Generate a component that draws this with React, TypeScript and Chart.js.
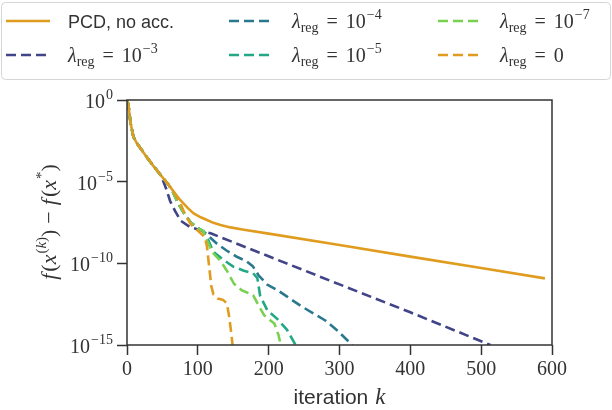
import React, { useEffect, useRef } from "react";
import { Chart, registerables } from "chart.js";

Chart.register(...registerables);

const SERIF = '"Liberation Serif", "DejaVu Serif", serif';
const SANS = '"Liberation Sans", "DejaVu Sans", sans-serif';

// ---- data (exponents of 10 for f(x^(k)) - f(x*)) ----
const pcdIter = [0, 2, 5, 9, 14, 19, 28, 38, 48, 58, 66, 75, 85, 94, 104, 113, 122, 132, 146, 165, 200, 300, 400, 500, 590];
const pcdExp = [0, -0.3, -1.4, -2.25, -2.65, -2.96, -3.5, -4.08, -4.62, -5.15, -5.62, -6.12, -6.58, -6.94, -7.18, -7.35, -7.52, -7.65, -7.8, -7.94, -8.18, -8.88, -9.59, -10.29, -10.92];

const reg3Iter = [0, 2, 5, 9, 14, 19, 28, 38, 48, 55, 61, 68, 76, 89, 104, 118, 200, 300, 400, 513];
const reg3Exp = [0, -0.3, -1.4, -2.25, -2.65, -2.96, -3.5, -4.08, -4.62, -5.4, -6.2, -6.8, -7.4, -7.78, -7.98, -8.16, -9.57, -11.29, -13.0, -15.0];

const reg4Iter = [0, 2, 5, 9, 14, 19, 28, 38, 48, 58, 64, 72, 80, 90, 100, 108, 117, 127, 140, 155, 168, 178, 186, 198, 212, 226, 245, 263, 280, 296, 318];
const reg4Exp = [0, -0.3, -1.4, -2.25, -2.65, -2.96, -3.5, -4.08, -4.62, -5.15, -5.55, -6.3, -6.9, -7.5, -7.85, -8.05, -8.4, -8.8, -9.2, -9.6, -9.85, -10.2, -10.75, -11.3, -11.63, -12.04, -12.6, -13.06, -13.5, -14.08, -15.0];

const reg5Iter = [0, 2, 5, 9, 14, 19, 28, 38, 48, 58, 64, 72, 80, 90, 100, 108, 115, 122, 135, 150, 165, 178, 184, 188, 198, 212, 226, 238];
const reg5Exp = [0, -0.3, -1.4, -2.25, -2.65, -2.96, -3.5, -4.08, -4.62, -5.15, -5.55, -6.3, -6.9, -7.5, -7.85, -8.05, -8.6, -9.3, -9.75, -10.2, -10.45, -10.6, -10.9, -12.0, -12.86, -13.4, -14.08, -15.0];

const reg7Iter = [0, 2, 5, 9, 14, 19, 28, 38, 48, 58, 64, 72, 80, 90, 100, 108, 113, 120, 132, 141, 151, 162, 178, 186, 194, 208, 214, 217];
const reg7Exp = [0, -0.3, -1.4, -2.25, -2.65, -2.96, -3.5, -4.08, -4.62, -5.15, -5.55, -6.3, -6.9, -7.5, -7.85, -8.05, -8.6, -9.3, -9.85, -10.45, -11.25, -11.65, -11.95, -12.6, -13.2, -13.68, -14.4, -15.0];

const reg0Iter = [0, 2, 5, 9, 14, 19, 28, 38, 48, 58, 66, 75, 82, 90, 99, 110, 113, 116, 119, 122, 128, 136, 141, 144, 147, 149];
const reg0Exp = [0, -0.3, -1.4, -2.25, -2.65, -2.96, -3.5, -4.08, -4.62, -5.15, -5.62, -6.3, -7.0, -7.6, -7.96, -8.4, -9.0, -10.2, -11.4, -11.9, -12.15, -12.25, -12.45, -13.2, -14.2, -15.0];

const seriesLabels = ["PCD, no acc.", "λreg = 10^-3", "λreg = 10^-4", "λreg = 10^-5", "λreg = 10^-7", "λreg = 0"];
const lambdaExps: (string | null)[] = ["", "−3", "−4", "−5", "−7", null];
const seriesColors = ["#e09c1f", "#414487", "#2a788e", "#22a884", "#7ad151", "#e09c1f"];
const seriesDashed = [false, true, true, true, true, true];

const xTicks = [0, 100, 200, 300, 400, 500, 600];
const yTickExps = [0, -5, -10, -15];

type Seg = { t: string; f: string; dy?: number; dx?: number };

function segWidth(ctx: CanvasRenderingContext2D, segs: Seg[]) {
  let w = 0;
  for (const s of segs) {
    ctx.font = s.f;
    w += ctx.measureText(s.t).width + (s.dx || 0);
  }
  return w;
}

function drawRich(ctx: CanvasRenderingContext2D, segs: Seg[], x: number, y: number, align: string) {
  const w = segWidth(ctx, segs);
  let cx = align === "right" ? x - w : align === "center" ? x - w / 2 : x;
  ctx.textBaseline = "alphabetic";
  ctx.textAlign = "left";
  for (const s of segs) {
    ctx.font = s.f;
    cx += (s.dx || 0);
    ctx.fillText(s.t, cx, y + (s.dy || 0));
    cx += ctx.measureText(s.t).width;
  }
}

function lambdaSegs(exp: string | null): Seg[] {
  const segs: Seg[] = [
    { t: "λ", f: `italic 20px ${SERIF}` },
    { t: "reg", f: `14px ${SERIF}`, dy: 4.5 },
    { t: "=", f: `20px ${SERIF}`, dx: 8 },
  ];
  if (exp === null) {
    segs.push({ t: "0", f: `20px ${SERIF}`, dx: 8 });
  } else {
    segs.push({ t: "10", f: `20px ${SERIF}`, dx: 8 });
    segs.push({ t: exp, f: `14px ${SERIF}`, dy: -9, dx: 1 });
  }
  return segs;
}

const decorPlugin = {
  id: "decor",
  afterDraw(chart: any) {
    const ctx: CanvasRenderingContext2D = chart.ctx;
    const { left, right, top, bottom } = chart.chartArea;
    ctx.save();
    // spines
    ctx.strokeStyle = "#333";
    ctx.lineWidth = 1.5;
    ctx.setLineDash([]);
    ctx.strokeRect(left, top, right - left, bottom - top);

    ctx.fillStyle = "#333";
    // y tick labels
    const ys = chart.scales.y;
    for (const e of yTickExps) {
      const py = ys.getPixelForValue(Math.pow(10, e));
      const sup = e === 0 ? "0" : "−" + Math.abs(e);
      drawRich(ctx, [{ t: "10", f: `20px ${SERIF}` }, { t: sup, f: `14px ${SERIF}`, dy: -9, dx: 1 }], 113, py + 8, "right");
    }

    // y axis title
    ctx.save();
    ctx.translate(48, 222);
    ctx.rotate(-Math.PI / 2);
    const it = `italic 22px ${SERIF}`;
    const rm = `22px ${SERIF}`;
    drawRich(ctx, [
      { t: "f", f: it },
      { t: "(", f: rm, dx: 2 },
      { t: "x", f: it },
      { t: "(", f: `15px ${SERIF}`, dy: -10, dx: 1 },
      { t: "k", f: `italic 15px ${SERIF}`, dy: -10 },
      { t: ")", f: `15px ${SERIF}`, dy: -10 },
      { t: ")", f: rm },
      { t: "−", f: rm, dx: 6 },
      { t: "f", f: it, dx: 6 },
      { t: "(", f: rm, dx: 2 },
      { t: "x", f: it },
      { t: "*", f: `15px ${SERIF}`, dy: -10, dx: 1 },
      { t: ")", f: rm },
    ], 0, 8, "center");
    ctx.restore();

    // x axis title
    const xMid = (left + right) / 2;
    drawRich(ctx, [
      { t: "iteration", f: `21px ${SANS}` },
      { t: "k", f: `italic 23px ${SERIF}`, dx: 7 },
    ], xMid, 404, "center");

    // legend frame
    ctx.beginPath();
    (ctx as any).roundRect(1.5, 2.5, 609, 77, 4);
    ctx.fillStyle = "#ffffff";
    ctx.fill();
    ctx.strokeStyle = "#d5d5d5";
    ctx.lineWidth = 1;
    ctx.stroke();

    const colLine = [6, 229, 438];
    const colText = [68, 292, 500];
    const rowY = [21, 55];
    chart.data.datasets.forEach((ds: any, i: number) => {
      const c = Math.floor(i / 2);
      const r = i % 2;
      const y = rowY[r];
      ctx.strokeStyle = ds.borderColor;
      ctx.lineWidth = 2.6;
      ctx.lineCap = "butt";
      ctx.setLineDash(seriesDashed[i] ? [10, 5] : []);
      ctx.beginPath();
      ctx.moveTo(colLine[c], y);
      ctx.lineTo(colLine[c] + 44, y);
      ctx.stroke();
      ctx.setLineDash([]);
      ctx.fillStyle = "#333";
      if (i === 0) {
        drawRich(ctx, [{ t: seriesLabels[0], f: `18px ${SANS}` }], colText[c], y + 6.5, "left");
      } else {
        drawRich(ctx, lambdaSegs(lambdaExps[i]), colText[c], y + 6.5, "left");
      }
    });
    ctx.restore();
  },
};

function toPoints(iter: number[], exp: number[]) {
  return iter.map((k, i) => ({ x: k, y: Math.pow(10, exp[i]) }));
}

export default function App() {
  const ref = useRef<HTMLCanvasElement | null>(null);
  useEffect(() => {
    if (!ref.current) return;
    const series = [
      toPoints(pcdIter, pcdExp),
      toPoints(reg3Iter, reg3Exp),
      toPoints(reg4Iter, reg4Exp),
      toPoints(reg5Iter, reg5Exp),
      toPoints(reg7Iter, reg7Exp),
      toPoints(reg0Iter, reg0Exp),
    ];
    const chart = new Chart(ref.current, {
      type: "line",
      data: {
        datasets: series.map((d, i) => ({
          label: seriesLabels[i],
          data: d,
          borderColor: seriesColors[i],
          backgroundColor: seriesColors[i],
          borderWidth: 2.6,
          borderDash: seriesDashed[i] ? [10, 5] : [],
          borderCapStyle: "butt",
          borderJoinStyle: "round",
          pointRadius: 0,
          tension: 0,
          fill: false,
          order: 6 - i,
        })),
      },
      options: {
        animation: false,
        responsive: false,
        maintainAspectRatio: false,
        parsing: true,
        layout: { padding: { top: 100, right: 60, left: 0, bottom: 0 } },
        plugins: { legend: { display: false }, tooltip: { enabled: false } },
        scales: {
          x: {
            type: "linear",
            min: 0,
            max: 600,
            afterBuildTicks: (scale: any) => {
              scale.ticks = xTicks.map((v) => ({ value: v }));
            },
            afterFit: (scale: any) => {
              scale.height = 65;
            },
            grid: { display: true, drawOnChartArea: false, drawTicks: true, tickLength: 10, tickWidth: 1.5, tickColor: "#333", color: "#333" },
            border: { display: false },
            ticks: { color: "#333", font: { family: SERIF, size: 20 }, padding: 3, maxRotation: 0, callback: (v: any) => String(v) },
          },
          y: {
            type: "logarithmic",
            min: 1e-15,
            max: 1,
            afterBuildTicks: (scale: any) => {
              scale.ticks = yTickExps.map((e) => ({ value: Math.pow(10, e) }));
            },
            afterFit: (scale: any) => {
              scale.width = 127;
            },
            grid: { display: true, drawOnChartArea: false, drawTicks: true, tickLength: 10, tickWidth: 1.5, tickColor: "#333", color: "#333" },
            border: { display: false },
            ticks: { callback: () => "", font: { family: SERIF, size: 20 } },
          },
        },
      },
      plugins: [decorPlugin],
    } as any);
    return () => chart.destroy();
  }, []);
  return (
    <div style={{ position: "fixed", left: 0, top: 0, width: 612, height: 410, background: "#fff" }}>
      <canvas ref={ref} width={612} height={410} style={{ display: "block", width: 612, height: 410 }} />
    </div>
  );
}
